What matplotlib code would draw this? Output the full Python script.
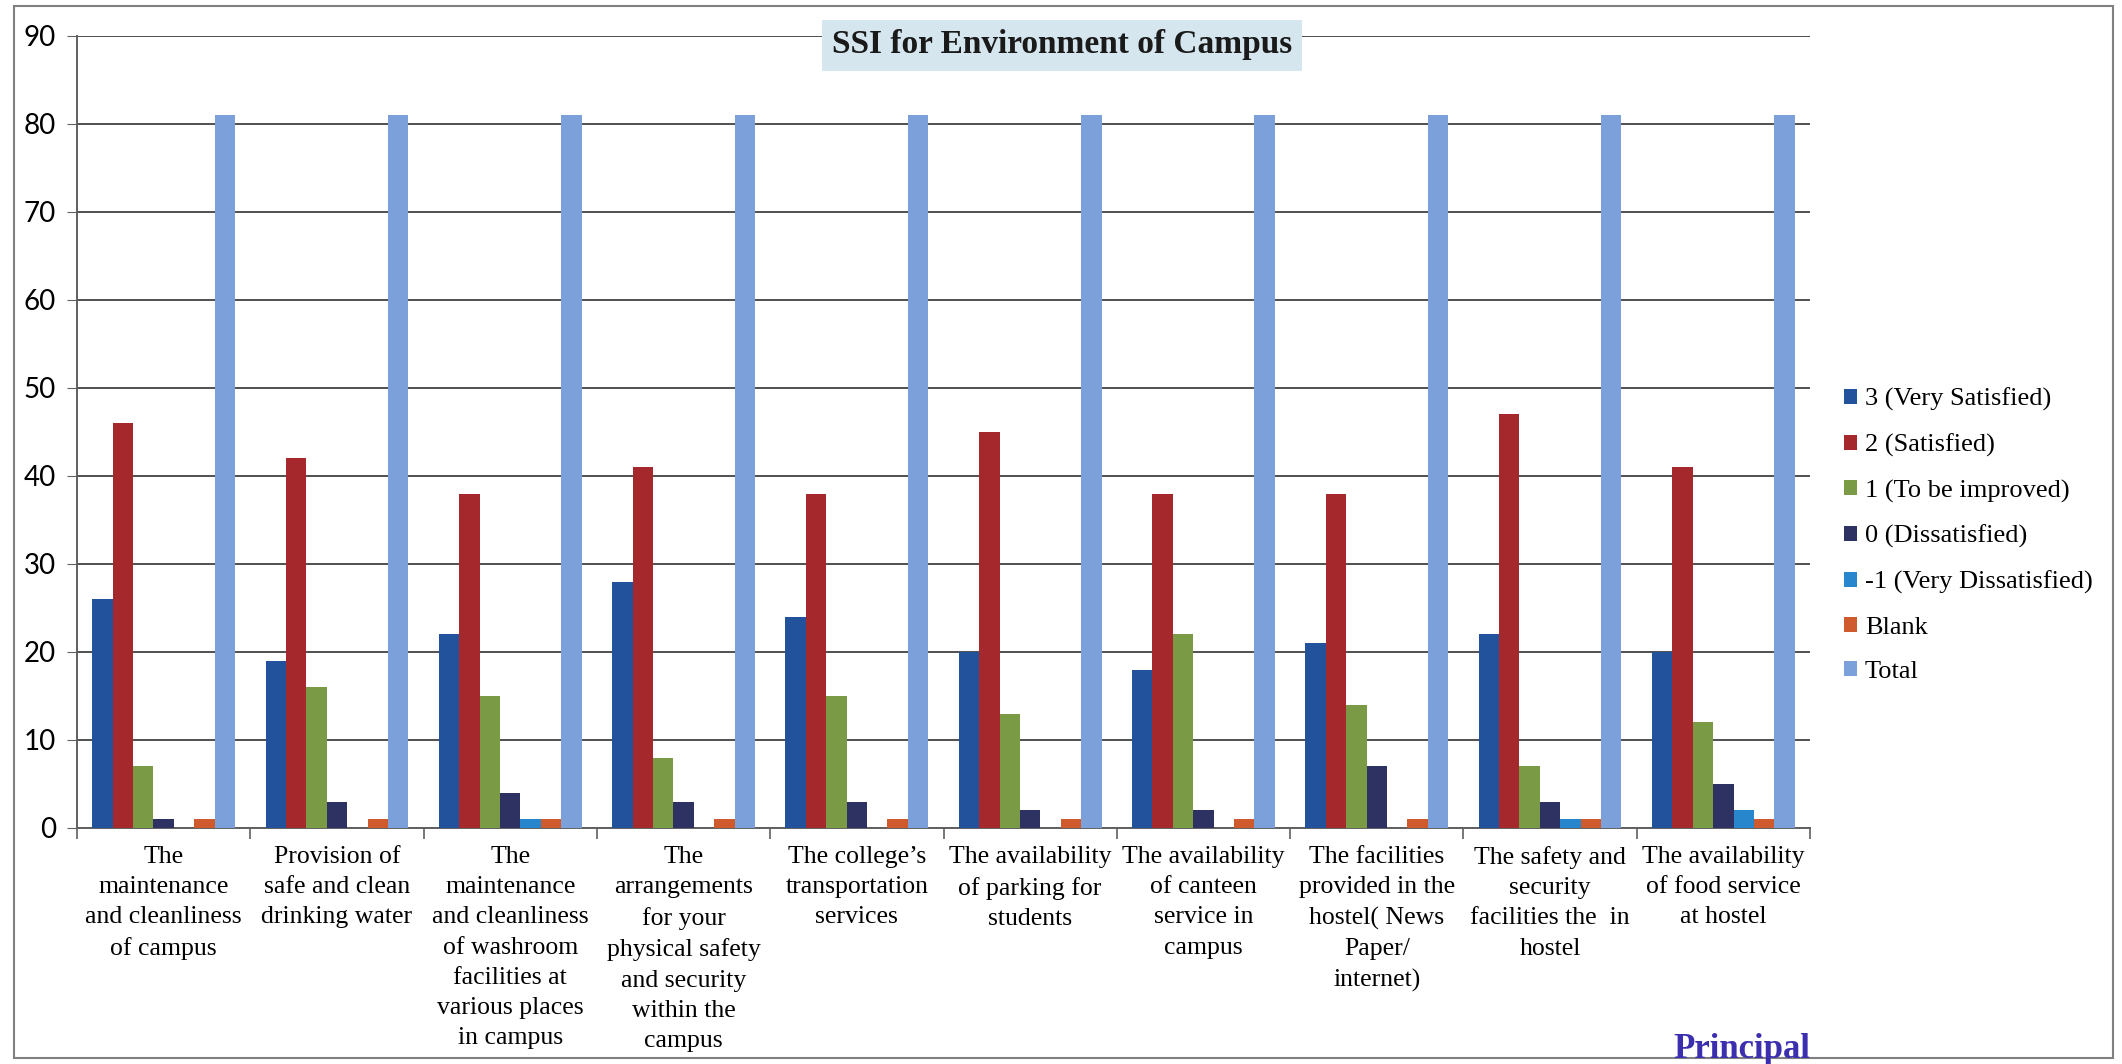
import matplotlib
matplotlib.use('Agg')
import matplotlib.pyplot as plt
from matplotlib.patches import Rectangle
import numpy as np

# survey questions (x categories)
questions = [
    "The\nmaintenance\nand cleanliness\nof campus",
    "Provision of\nsafe and clean\ndrinking water",
    "The\nmaintenance\nand cleanliness\nof washroom\nfacilities at\nvarious places\nin campus",
    "The\narrangements\nfor your\nphysical safety\nand security\nwithin the\ncampus",
    "The college\u2019s\ntransportation\nservices",
    "The availability\nof parking for\nstudents",
    "The availability\nof canteen\nservice in\ncampus",
    "The facilities\nprovided in the\nhostel( News\nPaper/\ninternet)",
    "The safety and\nsecurity\nfacilities the  in\nhostel",
    "The availability\nof food service\nat hostel",
]

very_satisfied = [26, 19, 22, 28, 24, 20, 18, 21, 22, 20]
satisfied = [46, 42, 38, 41, 38, 45, 38, 38, 47, 41]
to_be_improved = [7, 16, 15, 8, 15, 13, 22, 14, 7, 12]
dissatisfied = [1, 3, 4, 3, 3, 2, 2, 7, 3, 5]
very_dissatisfied = [0, 0, 1, 0, 0, 0, 0, 0, 1, 2]
blank = [1, 1, 1, 1, 1, 1, 1, 1, 1, 1]
total = [81, 81, 81, 81, 81, 81, 81, 81, 81, 81]

series_names = ["3 (Very Satisfied)", "2 (Satisfied)", "1 (To be improved)",
                "0 (Dissatisfied)", "-1 (Very Dissatisfied)", "Blank", "Total"]
series = [very_satisfied, satisfied, to_be_improved, dissatisfied,
          very_dissatisfied, blank, total]
colors = ['#22529B', '#A4282C', '#7A9A45', '#2E3262', '#2786CC', '#CF5A2E', '#7CA1DA']

fig = plt.figure(figsize=(21.22, 10.64), dpi=100)
ax = fig.add_axes([77/2122, 1-828/1064, (1810-77)/2122, (828-36)/1064])

x = np.arange(len(questions))
w = 1/8.5
for j, (vals, name, c) in enumerate(zip(series, series_names, colors)):
    ax.bar(x + (j-3)*w, vals, width=w, color=c, label=name, zorder=3)

ax.set_xlim(-0.5, len(questions)-0.5)
ax.set_ylim(0, 90)
ax.set_yticks(range(0, 91, 10))
ax.yaxis.grid(True, color='#505050', linewidth=1.4, zorder=0)
for s in ['top', 'right']:
    ax.spines[s].set_visible(False)
for s in ['left', 'bottom']:
    ax.spines[s].set_color('#606060')
    ax.spines[s].set_linewidth(1.4)
ax.tick_params(axis='y', labelsize=20, length=7, color='#606060', pad=8)
for lab in ax.get_yticklabels():
    lab.set_fontfamily('Lato')

ax.set_xticks(x)
ax.set_xticklabels(questions, fontsize=18.5, family='Liberation Serif', linespacing=1.48)
ax.tick_params(axis='x', length=0, pad=13)
ax.set_xticks(np.arange(-0.5, len(questions), 1), minor=True)
ax.tick_params(axis='x', which='minor', length=8, color='#606060', width=1.2)

fig.text(1062/2122, 1-45/1064, "SSI for Environment of Campus", ha='center', va='center',
         fontsize=24, fontweight='bold', family='Liberation Serif', color='#1a1a1a',
         bbox=dict(boxstyle='square,pad=0.3', facecolor='#D5E6EE', edgecolor='none'))

leg = fig.legend(loc='upper left', bbox_to_anchor=(1820/2122, 1-364/1064), frameon=False,
                 prop={'family': 'Liberation Serif', 'size': 19}, handlelength=0.5,
                 handleheight=0.5, handletextpad=0.3, labelspacing=0.85)

# outer chart border
fig.patches.append(Rectangle((14/2122, 6/1064), (2113-14)/2122, (1058-6)/1064,
                             transform=fig.transFigure, fill=False,
                             edgecolor='#808080', linewidth=1.5))

fig.text(1742/2122, 1-1050/1064, "Principal", ha='center', va='center', fontsize=25,
         fontweight='bold', family='Liberation Serif', color='#3b2fb0')

plt.savefig('out.png', dpi=100)
